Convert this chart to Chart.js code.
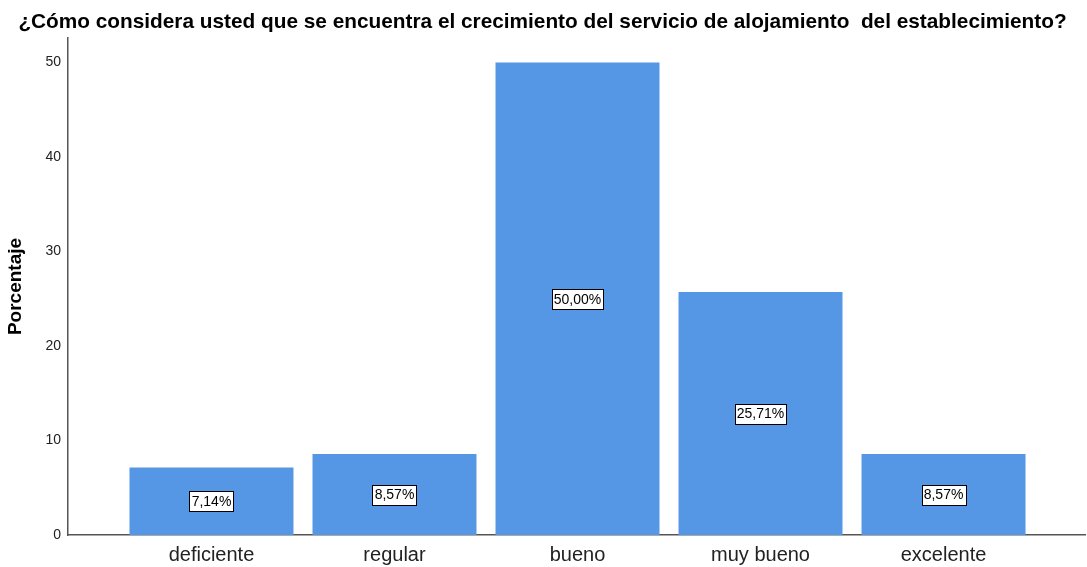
<!DOCTYPE html>
<html>
<head>
<meta charset="utf-8">
<script src="https://cdn.jsdelivr.net/npm/chart.js@4/dist/chart.umd.min.js"></script>
<style>
  html, body { margin: 0; padding: 0; background: #fff; }
  #wrap { width: 1087px; height: 567px; }
</style>
</head>
<body>
<div id="wrap"><canvas id="chart"></canvas></div>
<script>
const categories = ['deficiente', 'regular', 'bueno', 'muy bueno', 'excelente'];
const percentages = [7.14, 8.57, 50.00, 25.71, 8.57];
const yTicks = [0, 10, 20, 30, 40, 50];

const barColor = '#5596E5';
const axisColor = '#555555';

// white boxed percentage in the middle of every bar
const boxLabels = {
    id: 'boxLabels',
    afterDatasetsDraw(chart) {
        const ctx = chart.ctx;
        const meta = chart.getDatasetMeta(0);
        ctx.save();
        ctx.font = '14px "Liberation Sans", Arial, sans-serif';
        ctx.textAlign = 'center';
        ctx.textBaseline = 'middle';
        meta.data.forEach((bar, i) => {
            const text = percentages[i].toFixed(2).replace('.', ',') + '%';
            const cx = bar.x;
            const cy = (bar.y + bar.base) / 2;
            const w = Math.round(ctx.measureText(text).width + 4);
            const h = 20;
            const left = Math.round(cx - w / 2) + 0.5;
            const top = Math.round(cy - h / 2) + 0.5;
            ctx.fillStyle = '#ffffff';
            ctx.fillRect(left, top, w, h);
            ctx.strokeStyle = '#000000';
            ctx.lineWidth = 1;
            ctx.strokeRect(left, top, w, h);
            ctx.fillStyle = '#000000';
            ctx.fillText(text, cx, cy + 1);
        });
        ctx.restore();
    }
};

new Chart(document.getElementById('chart'), {
    type: 'bar',
    data: {
        datasets: [{
            data: categories.map((c, i) => ({ x: i, y: percentages[i] })),
            backgroundColor: barColor,
            borderWidth: 0,
            barPercentage: 0.896,
            categoryPercentage: 1
        }]
    },
    options: {
        responsive: true,
        maintainAspectRatio: false,
        animation: false,
        layout: { padding: { left: 0, right: 2, top: 0, bottom: 0 } },
        plugins: {
            legend: { display: false },
            tooltip: { enabled: false },
            title: {
                display: true,
                text: '¿Cómo considera usted que se encuentra el crecimiento del servicio de alojamiento  del establecimiento?',
                color: '#000',
                font: { family: '"Liberation Sans", Arial, sans-serif', size: 20.8, weight: 'bold' },
                padding: { top: 10, bottom: 3 }
            }
        },
        scales: {
            x: {
                type: 'linear',
                offset: false,
                min: -0.784,
                max: 4.773,
                grid: { display: false, drawTicks: false, offset: false },
                border: { display: true, color: axisColor, width: 1.5 },
                afterFit(scale) { scale.height = 32; },
                ticks: {
                    stepSize: 1,
                    includeBounds: false,
                    autoSkip: false,
                    maxRotation: 0,
                    padding: 8,
                    color: '#222',
                    font: { family: '"Liberation Sans", Arial, sans-serif', size: 20 },
                    callback: v => Number.isInteger(v) && categories[v] !== undefined ? categories[v] : ''
                }
            },
            y: {
                min: 0,
                max: 52.6,
                grid: { display: false, drawTicks: false },
                border: { display: true, color: axisColor, width: 1.5 },
                afterFit(scale) { scale.width = 68; },
                afterBuildTicks(scale) { scale.ticks = yTicks.map(v => ({ value: v })); },
                ticks: {
                    padding: 7,
                    color: '#222',
                    font: { family: '"Liberation Sans", Arial, sans-serif', size: 14 }
                },
                title: {
                    display: true,
                    text: 'Porcentaje',
                    color: '#000',
                    font: { family: '"Liberation Sans", Arial, sans-serif', size: 19, weight: 'bold' },
                    padding: { top: 4, bottom: 4 }
                }
            }
        }
    },
    plugins: [boxLabels]
});
</script>
</body>
</html>
